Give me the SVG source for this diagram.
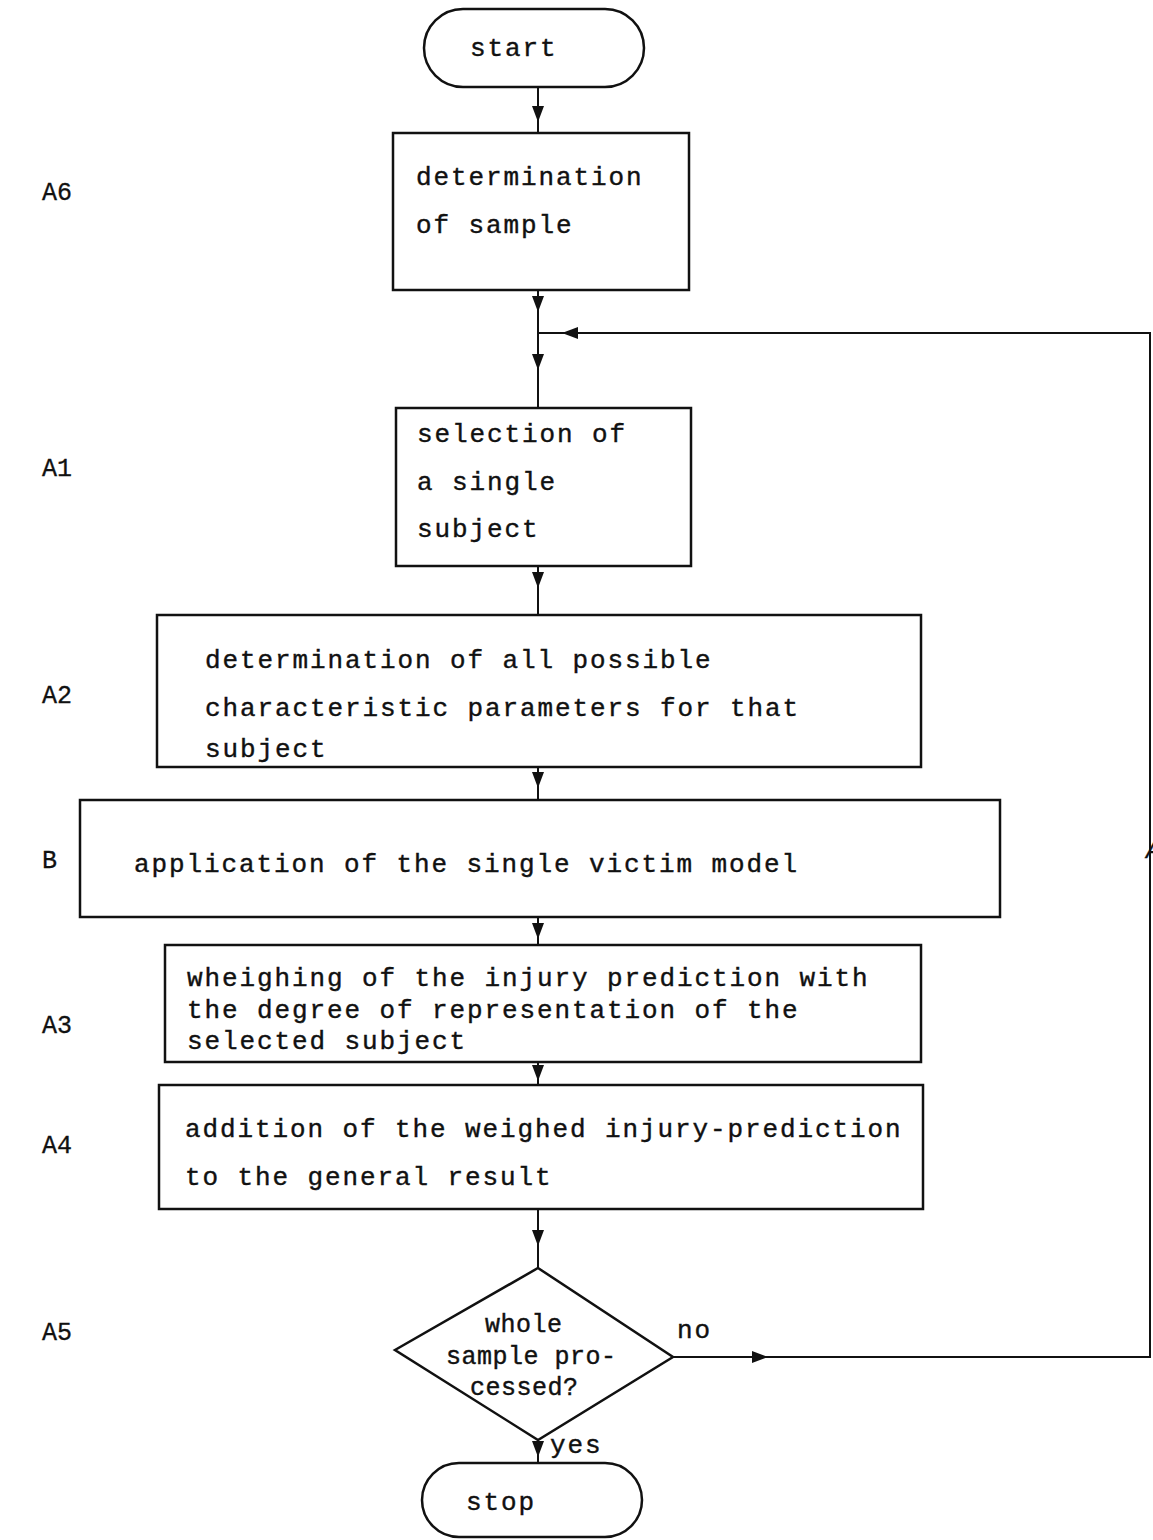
<svg xmlns="http://www.w3.org/2000/svg" width="1153" height="1540" viewBox="0 0 1153 1540">
<style>
.box{fill:none;stroke:#111;stroke-width:2.5}
.ln{fill:none;stroke:#111;stroke-width:2}
.t{font-family:"Liberation Mono","Courier New",monospace;font-size:26px;fill:#111;stroke:#111;stroke-width:0.4;letter-spacing:1.9px}
.t3{font-family:"Liberation Mono","Courier New",monospace;font-size:25px;fill:#111;stroke:#111;stroke-width:0.4;letter-spacing:0.5px}
.lab{font-family:"Liberation Mono","Courier New",monospace;font-size:25px;fill:#111;stroke:#111;stroke-width:0.3}
</style>
<defs>
<marker id="ar" markerUnits="userSpaceOnUse" markerWidth="18" markerHeight="12" refX="16" refY="6" orient="auto">
<path d="M0,0 L16,6 L0,12 z" fill="#111"/>
</marker>
</defs>
<rect width="1153" height="1540" fill="#fff"/>

<g id="labels">
<text class="lab" x="42" y="200">A6</text>
<text class="lab" x="42" y="476">A1</text>
<text class="lab" x="42" y="703">A2</text>
<text class="lab" x="42" y="868">B</text>
<text class="lab" x="42" y="1033">A3</text>
<text class="lab" x="42" y="1153">A4</text>
<text class="lab" x="42" y="1340">A5</text>
<text class="lab" x="1146" y="858" font-style="italic">A</text>
</g>

<g id="connectors">
<path class="ln" d="M538 87 L538 122" marker-end="url(#ar)"/><path class="ln" d="M538 118 L538 133"/>
<path class="ln" d="M538 290 L538 312" marker-end="url(#ar)"/><path class="ln" d="M538 306 L538 333"/>
<path class="ln" d="M538 333 L538 370" marker-end="url(#ar)"/><path class="ln" d="M538 364 L538 408"/>
<path class="ln" d="M538 566 L538 588" marker-end="url(#ar)"/><path class="ln" d="M538 582 L538 615"/>
<path class="ln" d="M538 767 L538 788" marker-end="url(#ar)"/><path class="ln" d="M538 782 L538 800"/>
<path class="ln" d="M538 917 L538 939" marker-end="url(#ar)"/><path class="ln" d="M538 933 L538 945"/>
<path class="ln" d="M538 1062 L538 1081" marker-end="url(#ar)"/><path class="ln" d="M538 1076 L538 1085"/>
<path class="ln" d="M538 1209 L538 1246" marker-end="url(#ar)"/><path class="ln" d="M538 1240 L538 1268"/>
<path class="ln" d="M538 1440 L538 1457" marker-end="url(#ar)"/><path class="ln" d="M538 1452 L538 1463"/>
<path class="ln" d="M673 1357 L768 1357" marker-end="url(#ar)"/>
<path class="ln" d="M762 1357 L1150 1357 L1150 333 L562 333" marker-end="url(#ar)"/>
<path class="ln" d="M568 333 L538 333"/>
</g>

<g id="start">
<rect class="box" x="424" y="9" width="220" height="78" rx="39"/>
<text class="t" x="470" y="56">start</text>
</g>

<g id="A6">
<rect class="box" x="393" y="133" width="296" height="157"/>
<text class="t" x="416" y="185">determination</text>
<text class="t" x="416" y="233">of sample</text>
</g>

<g id="A1">
<rect class="box" x="396" y="408" width="295" height="158"/>
<text class="t" x="417" y="442">selection of</text>
<text class="t" x="417" y="490">a single</text>
<text class="t" x="417" y="537">subject</text>
</g>

<g id="A2">
<rect class="box" x="157" y="615" width="764" height="152"/>
<text class="t" x="205" y="668">determination of all possible</text>
<text class="t" x="205" y="716">characteristic parameters for that</text>
<text class="t" x="205" y="757">subject</text>
</g>

<g id="B">
<rect class="box" x="80" y="800" width="920" height="117"/>
<text class="t" x="134" y="872">application of the single victim model</text>
</g>

<g id="A3">
<rect class="box" x="165" y="945" width="756" height="117"/>
<text class="t" x="187" y="986">wheighing of the injury prediction with</text>
<text class="t" x="187" y="1018">the degree of representation of the</text>
<text class="t" x="187" y="1049">selected subject</text>
</g>

<g id="A4">
<rect class="box" x="159" y="1085" width="764" height="124"/>
<text class="t" x="185" y="1137">addition of the weighed injury-prediction</text>
<text class="t" x="185" y="1185">to the general result</text>
</g>

<g id="A5">
<polygon class="box" points="538,1268 673,1357 538,1440 395,1350"/>
<text class="t3" x="485" y="1332">whole</text>
<text class="t3" x="446" y="1364">sample pro-</text>
<text class="t3" x="470" y="1395">cessed?</text>
<text class="t" x="677" y="1338">no</text>
<text class="t" x="550" y="1453">yes</text>
</g>

<g id="stop">
<rect class="box" x="422" y="1463" width="220" height="74" rx="37"/>
<text class="t" x="466" y="1510">stop</text>
</g>
</svg>
